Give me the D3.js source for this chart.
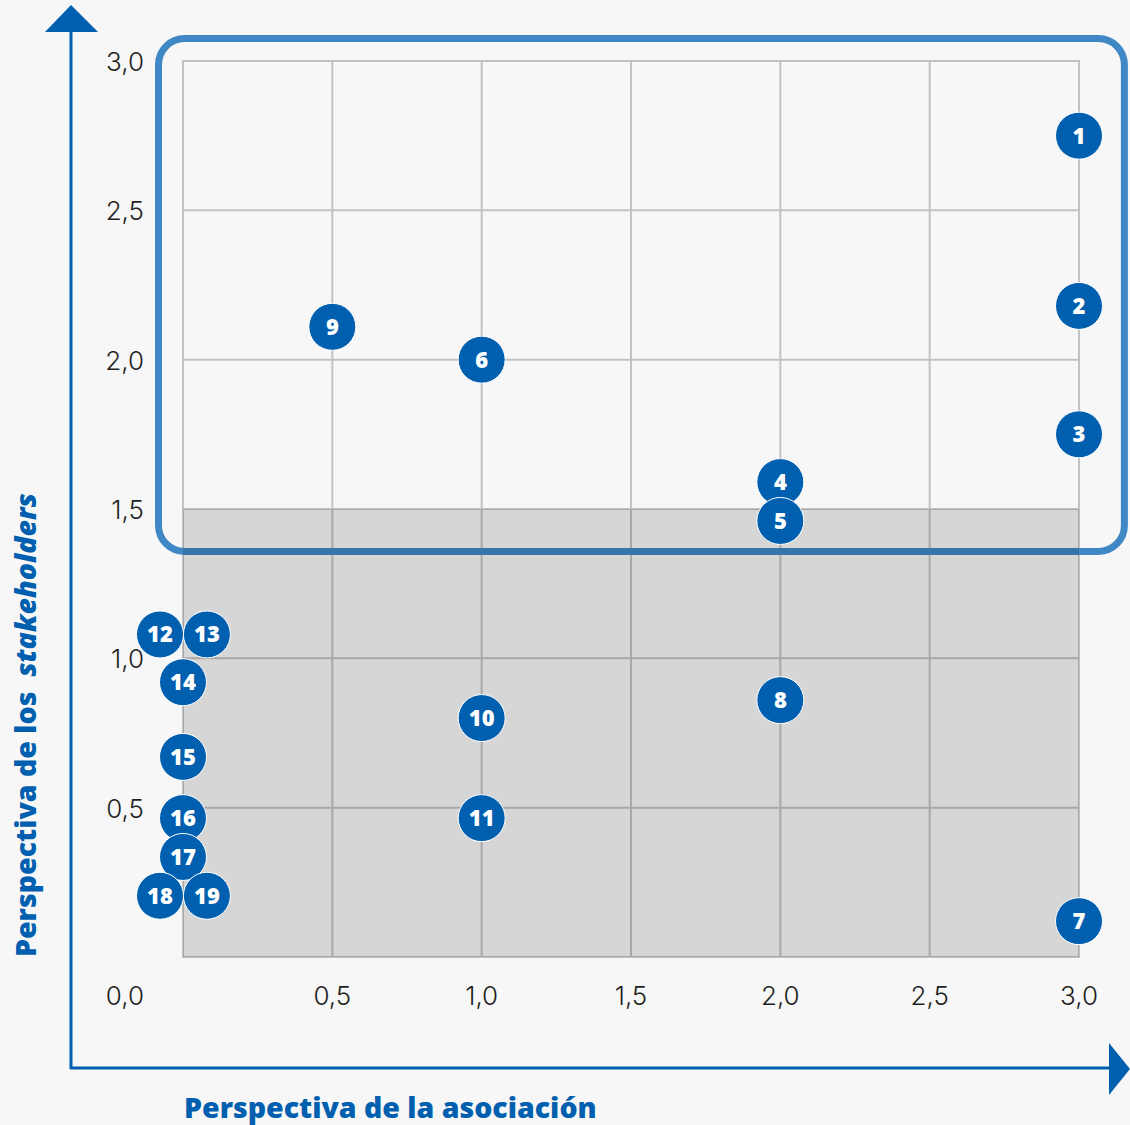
<!DOCTYPE html>
<html>
<head>
<meta charset="utf-8">
<script src="https://cdn.jsdelivr.net/npm/d3@7/dist/d3.min.js"></script>
<style>
  html, body { margin: 0; padding: 0; background: #f7f7f7; }
  svg { display: block; }
</style>
</head>
<body>
<svg id="chart" width="1130" height="1125"></svg>
<script>
// Materiality matrix: topics positioned by the association's view (x)
// and the stakeholders' view (y).
const ids     = [1, 2, 3, 4, 5, 6, 7, 8, 9, 10, 11, 12, 13, 14, 15, 16, 17, 18, 19];
const xValues = [3.0, 3.0, 3.0, 2.0, 2.0, 1.0, 3.0, 2.0, 0.5, 1.0, 1.0, -0.077, 0.08, 0.0, 0.0, 0.0, 0.0, -0.077, 0.08];
const yValues = [2.75, 2.18, 1.75, 1.59, 1.46, 2.0, 0.12, 0.86, 2.11, 0.8, 0.465, 1.08, 1.08, 0.92, 0.67, 0.465, 0.335, 0.205, 0.205];

const tickValues = [0.5, 1.0, 1.5, 2.0, 2.5, 3.0];
const cornerLabel = "0,0";
const xTitle = "Perspectiva de la asociación";
const yTitleParts = ["Perspectiva de los ", "stakeholders"];

// Shaded low-priority band and the highlighted high-priority zone (data units)
const shadedBand = { y0: 0, y1: 1.5 };
const highlightZone = { x0: -0.082, x1: 3.152, y0: 1.358, y1: 3.075 };

const svg = d3.select("#chart");
const blue = "#005faf";

const x = d3.scaleLinear().domain([0, 3]).range([183, 1079]);
const y = d3.scaleLinear().domain([0, 3]).range([957, 61]);
const fmt = v => d3.format(".1f")(v).replace(".", ",");

// Grid
const grid = svg.append("g");
grid.append("rect")
  .attr("x", x(0)).attr("y", y(3))
  .attr("width", x(3) - x(0)).attr("height", y(0) - y(3))
  .attr("fill", "none").attr("stroke", "#c2c2c2").attr("stroke-width", 2);
grid.selectAll("line.v").data(tickValues).join("line")
  .attr("x1", d => x(d)).attr("x2", d => x(d))
  .attr("y1", y(0)).attr("y2", y(3))
  .attr("stroke", "#c2c2c2").attr("stroke-width", 2);
grid.selectAll("line.h").data(tickValues).join("line")
  .attr("y1", d => y(d)).attr("y2", d => y(d))
  .attr("x1", x(0)).attr("x2", x(3))
  .attr("stroke", "#c2c2c2").attr("stroke-width", 2);

// Highlighted zone outline
svg.append("rect")
  .attr("x", x(highlightZone.x0)).attr("y", y(highlightZone.y1))
  .attr("width", x(highlightZone.x1) - x(highlightZone.x0))
  .attr("height", y(highlightZone.y0) - y(highlightZone.y1))
  .attr("rx", 26).attr("ry", 26)
  .attr("fill", "none").attr("stroke", "#3f88c5").attr("stroke-width", 7);

// Shaded band (translucent so grid and outline show through darker)
svg.append("rect")
  .attr("x", x(0)).attr("y", y(shadedBand.y1))
  .attr("width", x(3) - x(0)).attr("height", y(shadedBand.y0) - y(shadedBand.y1))
  .attr("fill", "rgba(0,0,0,0.135)");

// Axes with arrows
const axes = svg.append("g").attr("fill", blue);
axes.append("line").attr("x1", 71).attr("x2", 71).attr("y1", 30).attr("y2", 1069)
  .attr("stroke", blue).attr("stroke-width", 3);
axes.append("line").attr("x1", 70).attr("x2", 1112).attr("y1", 1068).attr("y2", 1068)
  .attr("stroke", blue).attr("stroke-width", 3);
axes.append("path").attr("d", "M71,5 L98,32 L45,32 Z");
axes.append("path").attr("d", "M1130,1069 L1109,1043 L1109,1095 Z");

// Tick labels
const tickFont = "Inter, 'DejaVu Sans', sans-serif";
svg.append("g").selectAll("text").data(tickValues).join("text")
  .attr("x", d => x(d)).attr("y", 1005)
  .attr("text-anchor", "middle")
  .attr("font-family", tickFont).attr("font-weight", 300).attr("font-size", 26)
  .attr("fill", "#1f1f1f")
  .text(fmt);
svg.append("g").selectAll("text").data(tickValues).join("text")
  .attr("x", 144).attr("y", d => y(d) + 10)
  .attr("text-anchor", "end")
  .attr("font-family", tickFont).attr("font-weight", 300).attr("font-size", 26)
  .attr("fill", "#1f1f1f")
  .text(fmt);
svg.append("text")
  .attr("x", 144).attr("y", 1005).attr("text-anchor", "end")
  .attr("font-family", tickFont).attr("font-weight", 300).attr("font-size", 26)
  .attr("fill", "#1f1f1f")
  .text(cornerLabel);

// Axis titles
const titleFont = "'Open Sans', Lato, sans-serif";
svg.append("text")
  .attr("x", 184).attr("y", 1118)
  .attr("font-family", titleFont).attr("font-weight", 800).attr("font-size", 28.5)
  .attr("fill", blue)
  .text(xTitle);
const yt = svg.append("text")
  .attr("transform", "translate(36,957) rotate(-90)")
  .attr("font-family", titleFont).attr("font-weight", 800).attr("font-size", 28.5)
  .attr("fill", blue)
  .attr("xml:space", "preserve");
yt.append("tspan").text(yTitleParts[0] + " ");
yt.append("tspan").attr("font-style", "italic").text(yTitleParts[1]);

// Numbered topic markers
const pts = ids.map((id, i) => ({ id, x: xValues[i], y: yValues[i] }));
const marks = svg.append("g").selectAll("g").data(pts).join("g")
  .attr("transform", d => `translate(${x(d.x)},${y(d.y)})`);
marks.append("circle").attr("r", 23.5)
  .attr("fill", blue).attr("stroke", "#ffffff").attr("stroke-width", 1);
marks.append("text")
  .attr("text-anchor", "middle").attr("dy", "0.36em")
  .attr("font-family", titleFont).attr("font-weight", 800).attr("font-size", 22)
  .attr("fill", "#ffffff")
  .text(d => d.id);
</script>
</body>
</html>
